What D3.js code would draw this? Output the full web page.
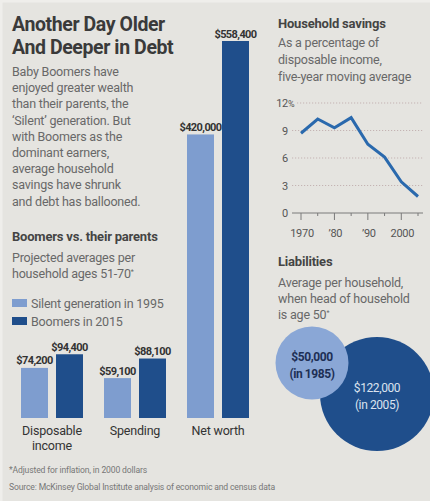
<!DOCTYPE html>
<html>
<head>
<meta charset="utf-8">
<script src="https://cdn.jsdelivr.net/npm/d3@7"></script>
<style>
  html, body { margin: 0; padding: 0; background: #e5e4e0; }
  svg { display: block; font-family: Roboto, "Noto Sans", sans-serif; }
</style>
</head>
<body>
<svg id="chart" width="430" height="501"></svg>
<script>
// ---- Data ----
const categories = ["Disposable income", "Spending", "Net worth"];
const categoryLines = [["Disposable", "income"], ["Spending"], ["Net worth"]];
const seriesNames = ["Silent generation in 1995", "Boomers in 2015"];
const silent1995 = [74200, 59100, 420000];
const boomers2015 = [94400, 88100, 558400];

const savingsYears = [1970, 1975, 1980, 1985, 1990, 1995, 2000, 2005];
const savingsPct = [8.7, 10.25, 9.3, 10.4, 7.5, 6.1, 3.4, 1.8];
const savingsYTicks = [0, 3, 6, 9, 12];
const savingsMajorYears = [1970, 1980, 1990, 2000];
const savingsMinorYears = [1975, 1985, 1995, 2005];
const savingsYearLabels = ["1970", "\u201980", "\u201990", "2000"];

const liabilityValues = [122000, 50000];
const liabilityYears = [2005, 1985];

// ---- Setup ----
const svg = d3.select("#chart");
const colLight = "#7e9dcf";
const colDark = "#1f4e8b";
const fmt = d3.format("$,");

svg.append("rect").attr("width", 430).attr("height", 501).attr("fill", "#e5e4e0");
svg.append("path").attr("d", "M1,501V1H430").attr("fill", "none")
  .attr("stroke", "#efeeeb").attr("stroke-width", 3);

function lines(sel, x, y0, dy, arr, attrs) {
  const t = sel.append("text").attr("x", x).attr("y", y0);
  Object.entries(attrs).forEach(([k, v]) => t.attr(k, v));
  arr.forEach((s, i) => {
    t.append("tspan").attr("x", x).attr("y", y0 + i * dy).text(s);
  });
  return t;
}

// ---- Headline & intro ----
lines(svg, 12, 31, 23, ["Another Day Older", "And Deeper in Debt"],
  { "font-size": 19.5, "font-weight": 700, fill: "#3a3a3a", "letter-spacing": -0.4 });

lines(svg, 12, 76, 16.2, [
  "Baby Boomers have",
  "enjoyed greater wealth",
  "than their parents, the",
  "\u2018Silent\u2019 generation. But",
  "with Boomers as the",
  "dominant earners,",
  "average household",
  "savings have shrunk",
  "and debt has ballooned."
], { "font-size": 12.5, fill: "#686868", "letter-spacing": -0.2 });

svg.append("text").attr("x", 12).attr("y", 241)
  .attr("font-size", 13).attr("font-weight", 700).attr("fill", "#444")
  .attr("letter-spacing", -0.2).text("Boomers vs. their parents");

const sub = lines(svg, 12, 262, 16.2, ["Projected averages per", "household ages 51-70"],
  { "font-size": 12.5, fill: "#686868", "letter-spacing": -0.2 });
sub.select("tspan:last-child").append("tspan").attr("font-size", 7).attr("dy", -4).text("*");

// Legend
const legend = svg.append("g");
[colLight, colDark].forEach((c, i) => {
  const y = 303 + i * 18;
  legend.append("rect").attr("x", 12).attr("y", y - 4).attr("width", 15).attr("height", 8).attr("fill", c);
  legend.append("text").attr("x", 31).attr("y", y + 4.5)
    .attr("font-size", 12.5).attr("fill", "#686868").attr("letter-spacing", -0.2)
    .text(seriesNames[i]);
});

// ---- Grouped bars ----
const x0 = d3.scaleBand().domain(categories).range([21, 249]).paddingInner(0.253);
const x1 = d3.scaleBand().domain(seriesNames).range([0, x0.bandwidth()]).paddingInner(0.229);
const yBar = d3.scaleLinear().domain([0, 558400]).range([418, 41]);

const rows = categories.map((c, i) => ({
  cat: c,
  vals: [
    { s: seriesNames[0], v: silent1995[i], c: colLight },
    { s: seriesNames[1], v: boomers2015[i], c: colDark }
  ]
}));

const g = svg.append("g").selectAll("g").data(rows).join("g")
  .attr("transform", d => `translate(${x0(d.cat)},0)`);

g.selectAll("rect").data(d => d.vals).join("rect")
  .attr("x", d => x1(d.s)).attr("width", x1.bandwidth())
  .attr("y", d => yBar(d.v)).attr("height", d => yBar(0) - yBar(d.v))
  .attr("fill", d => d.c);

g.selectAll("text.val").data(d => d.vals).join("text").attr("class", "val")
  .attr("x", d => x1(d.s) + x1.bandwidth() / 2)
  .attr("y", d => yBar(d.v) - 3.5)
  .attr("text-anchor", "middle").attr("font-size", 11).attr("font-weight", 700)
  .attr("letter-spacing", -0.6).attr("fill", "#333")
  .text(d => fmt(d.v));

categories.forEach((c, i) => {
  lines(svg, x0(c) + x0.bandwidth() / 2, 435, 14.5, categoryLines[i],
    { "font-size": 12.5, fill: "#333", "text-anchor": "middle", "letter-spacing": -0.2 });
});

// Footnotes
svg.append("text").attr("x", 9).attr("y", 473).attr("font-size", 8.6).attr("fill", "#777")
  .attr("letter-spacing", -0.15).text("*Adjusted for inflation, in 2000 dollars");
svg.append("text").attr("x", 9).attr("y", 490).attr("font-size", 8.6).attr("fill", "#777")
  .attr("letter-spacing", -0.15).text("Source: McKinsey Global Institute analysis of economic and census data");

// ---- Household savings line chart ----
svg.append("text").attr("x", 278).attr("y", 28)
  .attr("font-size", 13).attr("font-weight", 700).attr("fill", "#444")
  .attr("letter-spacing", -0.2).text("Household savings");
lines(svg, 278, 47, 16.8, ["As a percentage of", "disposable income,", "five-year moving average"],
  { "font-size": 12.5, fill: "#686868", "letter-spacing": -0.2 });

const xs = d3.scaleLinear().domain([1970, 2005]).range([301, 418]);
const ys = d3.scaleLinear().domain([0, 12]).range([213, 103]);

const lc = svg.append("g");
savingsYTicks.forEach(t => {
  if (t > 0) {
    lc.append("line").attr("x1", t === 12 ? 297 : 292).attr("x2", 423)
      .attr("y1", ys(t)).attr("y2", ys(t))
      .attr("stroke", "#c4b3b3").attr("stroke-width", 1).attr("stroke-dasharray", "1.2,1.8");
  }
  const tx = lc.append("text").attr("x", 288).attr("y", ys(t) + 4)
    .attr("text-anchor", "end").attr("font-size", 11).attr("fill", "#555")
    .attr("letter-spacing", -0.3).text(t);
  if (t === 12) {
    lc.append("text").attr("x", 288).attr("y", ys(t) + 4).attr("font-size", 9)
      .attr("fill", "#555").text("%");
  }
});

lc.append("line").attr("x1", 292).attr("x2", 423).attr("y1", ys(0)).attr("y2", ys(0))
  .attr("stroke", "#7a7a7a").attr("stroke-width", 1);
savingsMajorYears.forEach((yr, i) => {
  lc.append("line").attr("x1", xs(yr)).attr("x2", xs(yr)).attr("y1", ys(0)).attr("y2", ys(0) + 7)
    .attr("stroke", "#7a7a7a").attr("stroke-width", 1);
  lc.append("text").attr("x", xs(yr) + 1).attr("y", 237).attr("text-anchor", "middle")
    .attr("font-size", 11).attr("fill", "#555").attr("letter-spacing", -0.3)
    .text(savingsYearLabels[i]);
});
savingsMinorYears.forEach(yr => {
  lc.append("line").attr("x1", xs(yr)).attr("x2", xs(yr)).attr("y1", ys(0)).attr("y2", ys(0) + 3)
    .attr("stroke", "#7a7a7a").attr("stroke-width", 1);
});

lc.append("path")
  .datum(savingsYears.map((yr, i) => [yr, savingsPct[i]]))
  .attr("fill", "none").attr("stroke", "#2a69ad").attr("stroke-width", 3)
  .attr("stroke-linejoin", "miter")
  .attr("d", d3.line().x(d => xs(d[0])).y(d => ys(d[1])));

// ---- Liabilities bubbles ----
svg.append("text").attr("x", 278).attr("y", 266)
  .attr("font-size", 13).attr("font-weight", 700).attr("fill", "#444")
  .attr("letter-spacing", -0.2).text("Liabilities");
const lt = lines(svg, 278, 287, 16, ["Average per household,", "when head of household", "is age 50"],
  { "font-size": 12.5, fill: "#686868", "letter-spacing": -0.2 });
lt.select("tspan:last-child").append("tspan").attr("font-size", 7).attr("dy", -4).text("*");

const rScale = d3.scaleSqrt().domain([0, 122000]).range([0, 57]);
const centres = { 2005: [377, 394], 1985: [312, 363] };
const bubbles = svg.append("g").selectAll("g")
  .data(liabilityValues.map((v, i) => ({ v, yr: liabilityYears[i] })))
  .join("g")
  .attr("transform", d => `translate(${centres[d.yr][0]},${centres[d.yr][1]})`);

bubbles.append("circle").attr("r", d => rScale(d.v))
  .attr("fill", d => d.yr === 1985 ? "#8aa7d6" : colDark);
bubbles.append("text").attr("text-anchor", "middle").attr("y", -2)
  .attr("font-size", 12).attr("letter-spacing", -0.4)
  .attr("font-weight", d => d.yr === 1985 ? 700 : 400)
  .attr("fill", d => d.yr === 1985 ? "#1d2f55" : "#dbe3ef")
  .text(d => fmt(d.v));
bubbles.append("text").attr("text-anchor", "middle").attr("y", 14.5)
  .attr("font-size", 12).attr("letter-spacing", -0.4)
  .attr("font-weight", d => d.yr === 1985 ? 700 : 400)
  .attr("fill", d => d.yr === 1985 ? "#1d2f55" : "#dbe3ef")
  .text(d => `(in ${d.yr})`);
</script>
</body>
</html>
